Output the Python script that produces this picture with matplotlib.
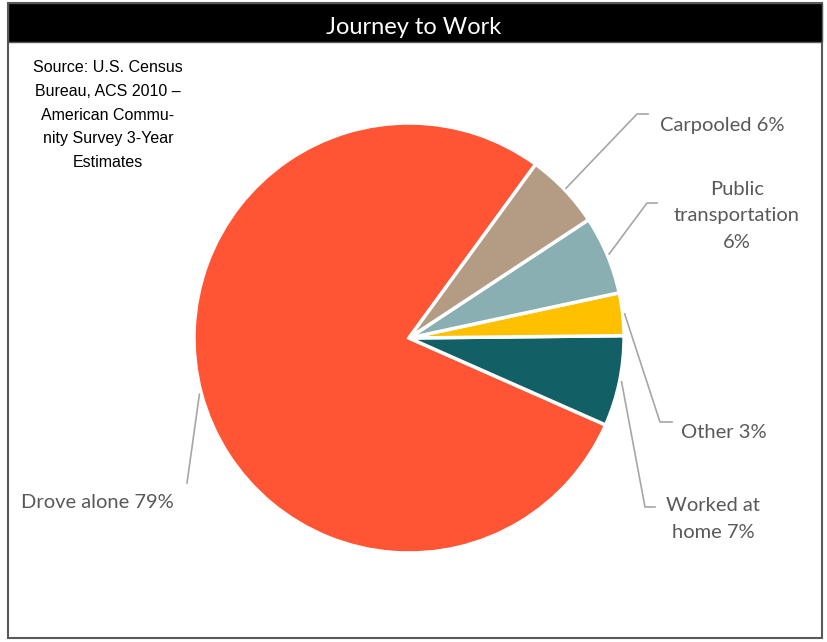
import numpy as np
import matplotlib.pyplot as plt
from matplotlib.patches import Rectangle

# Data (shares, labels as printed)
modes = ['Drove alone', 'Worked at home', 'Other', 'Public transportation', 'Carpooled']
shares = [78.4, 6.8, 3.2, 5.9, 5.7]
label_texts = ['Drove alone 79%', 'Worked at\nhome 7%', 'Other 3%',
               'Public\ntransportation\n6%', 'Carpooled 6%']
colors = ['#FF5535', '#135F66', '#FFC000', '#8AAFB3', '#B39B84']

title = 'Journey to Work'
source = 'Source: U.S. Census\nBureau, ACS 2010 \u2013\nAmerican Commu-\nnity Survey 3-Year\nEstimates'

W, H = 828, 642


def Y(y):
    # pixel row -> data y
    return H - y


# label layout: text centre, elbow point, end of horizontal tick
label_pos = [(97, 503), (713, 519), (724, 433), (737, 216), (722, 126)]
elbows = [(187, 483), (645, 507), (660, 422), (647, 203), (637, 114)]
tick_ends = [(187, 483), (655, 507), (672, 422), (657, 203), (648, 114)]

fig = plt.figure(figsize=(W / 100, H / 100), dpi=100)
ax = fig.add_axes([0, 0, 1, 1])

cx, cy, r = 409, 338, 215
wedges, _ = ax.pie(shares, colors=colors, startangle=53.9, counterclock=True,
                   center=(cx, Y(cy)), radius=r, frame=True,
                   wedgeprops=dict(edgecolor='white', linewidth=2.5))
ax.set_xlim(0, W)
ax.set_ylim(0, H)
ax.axis('off')

# frame and title bar
ax.add_patch(Rectangle((8, Y(638)), 814, 635, fill=False, edgecolor='#595959', lw=1.5, zorder=5))
ax.add_patch(Rectangle((8, Y(42)), 814, 39, facecolor='black', edgecolor='#595959', lw=1.0, zorder=5))
ax.text(414, Y(27), title, color='white', fontsize=17, family='Lato',
        ha='center', va='center', zorder=6)

ax.text(108, Y(115), source, fontsize=11.5, family='Liberation Sans', color='black',
        ha='center', va='center', linespacing=1.72)

# leader lines + labels
for w, txt, (tx, ty), (ex, ey), (kx, ky) in zip(wedges, label_texts, label_pos, elbows, tick_ends):
    ang = np.deg2rad((w.theta1 + w.theta2) / 2)
    sx = cx + (r + 2) * np.cos(ang)
    sy = Y(cy) + (r + 2) * np.sin(ang)
    ax.plot([sx, ex, kx], [sy, Y(ey), Y(ky)], color='#A6A6A6', lw=1.2, zorder=3)
    ax.text(tx, Y(ty), txt, fontsize=14.5, family='Lato', color='#595959',
            ha='center', va='center', linespacing=1.65)

plt.savefig('out.png', dpi=100)
